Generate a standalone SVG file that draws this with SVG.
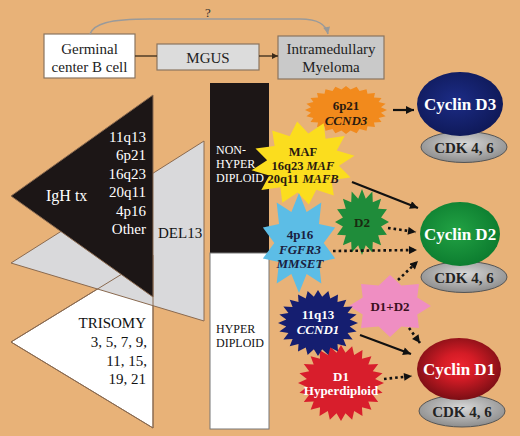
<svg xmlns="http://www.w3.org/2000/svg" xmlns:xlink="http://www.w3.org/1999/xlink" width="520" height="436" viewBox="0 0 520 436">
<style>
text{font-family:"Liberation Serif","Times New Roman",serif}
.box{stroke:#8a7560;stroke-width:1.2}
.bt{font-size:15px;fill:#222;text-anchor:middle}
.tri{stroke:#8a6a50;stroke-width:1}
.lw{font-size:15px;fill:#fff;text-anchor:end}
.lb{font-size:15px;fill:#111;text-anchor:end}
.bar{font-size:12px}
.st{font-size:13px;font-weight:bold;text-anchor:middle}
.mf{font-size:12.5px;font-weight:bold;fill:#2a1a10}
.cy{font-size:17px;font-weight:bold;fill:#fff;text-anchor:middle}
.cdk{font-size:15px;font-weight:bold;fill:#222;text-anchor:middle}
.sol{stroke:#111;stroke-width:2.2;fill:none}
.dot{stroke:#111;stroke-width:2.6;fill:none;stroke-dasharray:2.6 3}
.ck{stroke:#555;stroke-width:1}
</style>
<defs>
<marker id="ah" viewBox="0 0 10 10" refX="10" refY="5" markerUnits="userSpaceOnUse" markerWidth="9" markerHeight="8" orient="auto"><path d="M0,0L10,5L0,10z" fill="#111"/></marker>
<marker id="ag" viewBox="0 0 10 10" refX="10" refY="5" markerUnits="userSpaceOnUse" markerWidth="8" markerHeight="7" orient="auto"><path d="M0,0L10,5L0,10z" fill="#999"/></marker>
<marker id="ab" viewBox="0 0 10 10" refX="10" refY="5" markerUnits="userSpaceOnUse" markerWidth="7" markerHeight="6" orient="auto"><path d="M0,0L10,5L0,10z" fill="#3a2a1a"/></marker>
<polygon id="s24" points="1,0 .793,.104 .966,.259 .739,.306 .866,.5 .635,.487 .707,.707 .487,.635 .5,.866 .306,.739 .259,.966 .104,.793 0,1 -.104,.793 -.259,.966 -.306,.739 -.5,.866 -.487,.635 -.707,.707 -.635,.487 -.866,.5 -.739,.306 -.966,.259 -.793,.104 -1,0 -.793,-.104 -.966,-.259 -.739,-.306 -.866,-.5 -.635,-.487 -.707,-.707 -.487,-.635 -.5,-.866 -.306,-.739 -.259,-.966 -.104,-.793 0,-1 .104,-.793 .259,-.966 .306,-.739 .5,-.866 .487,-.635 .707,-.707 .635,-.487 .866,-.5 .739,-.306 .966,-.259 .793,-.104"/>
<polygon id="s24b" points="1,0 .853,.112 .966,.259 .795,.329 .866,.5 .682,.524 .707,.707 .524,.682 .5,.866 .329,.795 .259,.966 .112,.853 0,1 -.112,.853 -.259,.966 -.329,.795 -.5,.866 -.524,.682 -.707,.707 -.682,.524 -.866,.5 -.795,.329 -.966,.259 -.853,.112 -1,0 -.853,-.112 -.966,-.259 -.795,-.329 -.866,-.5 -.682,-.524 -.707,-.707 -.524,-.682 -.5,-.866 -.329,-.795 -.259,-.966 -.112,-.853 0,-1 .112,-.853 .259,-.966 .329,-.795 .5,-.866 .524,-.682 .707,-.707 .682,-.524 .866,-.5 .795,-.329 .966,-.259 .853,-.112"/>
<polygon id="s16" points="1,0 .706,.140 .924,.383 .599,.400 .707,.707 .400,.599 .383,.924 .140,.706 0,1 -.140,.706 -.383,.924 -.400,.599 -.707,.707 -.599,.400 -.924,.383 -.706,.140 -1,0 -.706,-.140 -.924,-.383 -.599,-.400 -.707,-.707 -.400,-.599 -.383,-.924 -.140,-.706 0,-1 .140,-.706 .383,-.924 .400,-.599 .707,-.707 .599,-.400 .924,-.383 .706,-.140"/>
<polygon id="s12" points="1,0 .676,.181 .866,.5 .495,.495 .5,.866 .181,.676 0,1 -.181,.676 -.5,.866 -.495,.495 -.866,.5 -.676,.181 -1,0 -.676,-.181 -.866,-.5 -.495,-.495 -.5,-.866 -.181,-.676 0,-1 .181,-.676 .5,-.866 .495,-.495 .866,-.5 .676,-.181"/>
<polygon id="s10" points="1,0 .618,.201 .809,.588 .382,.526 .309,.951 0,.65 -.309,.951 -.382,.526 -.809,.588 -.618,.201 -1,0 -.618,-.201 -.809,-.588 -.382,-.526 -.309,-.951 0,-.65 .309,-.951 .382,-.526 .809,-.588 .618,-.201"/>
<polygon id="s8" points="1,0 .665,.276 .707,.707 .276,.665 0,1 -.276,.665 -.707,.707 -.665,.276 -1,0 -.665,-.276 -.707,-.707 -.276,-.665 0,-1 .276,-.665 .707,-.707 .665,-.276"/>
<radialGradient id="gD3" cx=".45" cy=".45" r=".6"><stop offset="0" stop-color="#1c2c86"/><stop offset="1" stop-color="#0e1856"/></radialGradient>
<radialGradient id="gD2" cx=".45" cy=".45" r=".6"><stop offset="0" stop-color="#22a244"/><stop offset="1" stop-color="#0b7a2e"/></radialGradient>
<radialGradient id="gD1" cx=".5" cy=".45" r=".6"><stop offset="0" stop-color="#ee2630"/><stop offset=".35" stop-color="#d41c26"/><stop offset="1" stop-color="#6e0c12"/></radialGradient>
<radialGradient id="gCK" cx=".5" cy=".4" r=".6"><stop offset="0" stop-color="#d8d8d8"/><stop offset="1" stop-color="#8c8c8c"/></radialGradient>
</defs>
<rect width="520" height="436" fill="#E8B278"/>

<g id="triangles">
<polygon class="tri" points="153,255 11,342 153,428" fill="#fff"/>
<polygon class="tri" points="204,141 11,263 204,321" fill="#d9d9db"/>
<polygon class="tri" points="153,255 11,342 153,428" fill="none"/>
<polygon class="tri" points="153,95 11,196 153,297" fill="#1c1616"/>
</g>
<g id="igh">
<text x="46" y="201" style="font-size:16px;fill:#fff">IgH tx</text>
<text class="lw" x="146" y="142">11q13</text>
<text class="lw" x="146" y="160">6p21</text>
<text class="lw" x="146" y="179">16q23</text>
<text class="lw" x="146" y="197">20q11</text>
<text class="lw" x="146" y="216">4p16</text>
<text class="lw" x="146" y="234">Other</text>
</g>
<g id="del13"><text x="158" y="238" style="font-size:15px;fill:#111">DEL13</text></g>
<g id="trisomy">
<text class="lb" x="146" y="328">TRISOMY</text>
<text class="lb" x="147" y="347">3, 5, 7, 9,</text>
<text class="lb" x="147" y="366">11, 15,</text>
<text class="lb" x="146" y="384">19, 21</text>
</g>

<g id="bar">
<rect x="210" y="83" width="59" height="170" fill="#1c1616"/>
<rect x="210" y="253" width="59" height="176" fill="#fff" stroke="#777" stroke-width="1"/>
<text class="bar" x="216" y="154" fill="#fff">NON-</text>
<text class="bar" x="216" y="168" fill="#fff">HYPER</text>
<text class="bar" x="216" y="182" fill="#fff">DIPLOID</text>
<text class="bar" x="216" y="333" fill="#111">HYPER</text>
<text class="bar" x="216" y="347" fill="#111">DIPLOID</text>
</g>

<g id="germinal"><rect class="box" x="44" y="34" width="91" height="44" fill="#fff"/><text class="bt" x="89.5" y="54">Germinal</text><text class="bt" x="89.5" y="72">center B cell</text></g>
<g id="mgus"><rect class="box" x="157" y="44" width="102" height="26" fill="#dcdcdc"/><text class="bt" x="208" y="63">MGUS</text></g>
<g id="myeloma"><rect class="box" x="278" y="36" width="106" height="43" fill="#c9c9c9"/><text class="bt" x="331" y="54">Intramedullary</text><text class="bt" x="331" y="72">Myeloma</text></g>

<g id="ccnd3"><use xlink:href="#s24b" href="#s24b" fill="#F28A1C" transform="translate(346,110) scale(41,24)"/><text class="st" x="346" y="110" fill="#2a1a10">6p21</text><text class="st" x="346" y="125" fill="#2a1a10" font-style="italic">CCND3</text></g>
<g id="maf"><use xlink:href="#s12" href="#s12" fill="#FBDD1E" transform="translate(303,163) rotate(-8) scale(52,42)"/>
<text class="mf" x="303" y="156" text-anchor="middle">MAF</text>
<text class="mf" x="271.5" y="170">16q23</text><text class="mf" x="306.5" y="170" font-style="italic">MAF</text>
<text class="mf" x="267.5" y="183">20q11</text><text class="mf" x="302.5" y="183" font-style="italic">MAFB</text></g>
<g id="fgfr3"><use xlink:href="#s10" href="#s10" fill="#5CBDE6" transform="translate(299,243) scale(38,50) rotate(18)"/><text class="st" x="300" y="239" fill="#1a2040">4p16</text><text class="st" x="300" y="254" fill="#1a2040" font-style="italic">FGFR3</text><text class="st" x="300" y="268" fill="#1a2040" font-style="italic">MMSET</text></g>
<g id="d2"><use xlink:href="#s16" href="#s16" fill="#1F8C3A" transform="translate(362,222) scale(27,33)"/><text class="st" x="362" y="227" fill="#1a2a10">D2</text></g>
<g id="d1d2"><use xlink:href="#s8" href="#s8" fill="#EF8EC2" transform="translate(390,306) scale(41,31)"/><text class="st" x="390" y="311" fill="#3a1020">D1+D2</text></g>
<g id="d1hyper"><use xlink:href="#s24" href="#s24" fill="#D81E2C" transform="translate(341,383) scale(43,38)"/><text class="st" x="341" y="381" fill="#fff">D1</text><text class="st" x="341" y="395" fill="#fff">Hyperdiploid</text></g>
<g id="ccnd1"><use xlink:href="#s24" href="#s24" fill="#151E70" transform="translate(318,323) scale(40,33)"/><text class="st" x="318" y="319" fill="#fff">11q13</text><text class="st" x="318" y="334" fill="#fff" font-style="italic">CCND1</text></g>

<g id="cyclinD3"><ellipse class="ck" cx="464" cy="147" rx="43" ry="15.5" fill="url(#gCK)"/><ellipse cx="460" cy="104" rx="43" ry="32" fill="url(#gD3)"/><text class="cy" x="460" y="110">Cyclin D3</text><text class="cdk" x="464" y="153">CDK 4, 6</text></g>
<g id="cyclinD2"><ellipse class="ck" cx="464" cy="277" rx="43" ry="15.5" fill="url(#gCK)"/><ellipse cx="460" cy="234" rx="40" ry="32" fill="url(#gD2)"/><text class="cy" x="460" y="240">Cyclin D2</text><text class="cdk" x="464" y="283">CDK 4, 6</text></g>
<g id="cyclinD1"><ellipse class="ck" cx="462" cy="411" rx="43" ry="16" fill="url(#gCK)"/><ellipse cx="459" cy="369" rx="42" ry="31" fill="url(#gD1)"/><text class="cy" x="459" y="375">Cyclin D1</text><text class="cdk" x="462" y="417">CDK 4, 6</text></g>

<g id="connectors">
<path d="M90,34 C94,24 108,19 150,19 L300,19 C318,19 326,24 328,34" stroke="#9a9a9a" stroke-width="1.6" fill="none" marker-end="url(#ag)"/>
<text x="208" y="17" style="font-size:13px;fill:#333;text-anchor:middle">?</text>
<line x1="135" y1="56" x2="157" y2="56" stroke="#3a2a1a" stroke-width="1.3"/>
<line x1="259" y1="56" x2="278" y2="56" stroke="#3a2a1a" stroke-width="1.3" marker-end="url(#ab)"/>
<line class="sol" x1="393" y1="110" x2="414" y2="110" stroke-width="1.6" marker-end="url(#ah)"/>
<line class="sol" x1="352" y1="182" x2="418" y2="208" marker-end="url(#ah)"/>
<line class="dot" x1="388" y1="228" x2="416" y2="232" marker-end="url(#ah)"/>
<line class="dot" x1="333" y1="251" x2="417" y2="250" marker-end="url(#ah)"/>
<line class="dot" x1="398" y1="280" x2="418" y2="261" marker-end="url(#ah)"/>
<line class="dot" x1="409" y1="328" x2="420" y2="343" marker-end="url(#ah)"/>
<line class="sol" x1="360" y1="335" x2="411" y2="354" marker-end="url(#ah)"/>
<line class="dot" x1="384" y1="379" x2="412" y2="376" marker-end="url(#ah)"/>
</g>
</svg>
